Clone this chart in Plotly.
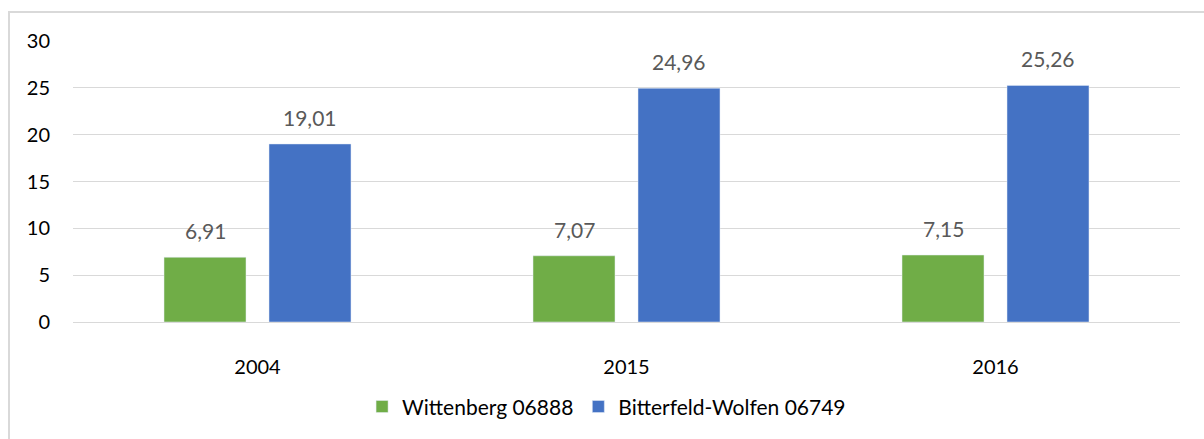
import plotly.graph_objects as go

years = ["2004", "2015", "2016"]
wittenberg = [6.91, 7.07, 7.15]
bitterfeld = [19.01, 24.96, 25.26]
series_names = ["Wittenberg 06888", "Bitterfeld-Wolfen 06749"]
y_ticks = [0, 5, 10, 15, 20, 25, 30]

GREEN = "#70AD47"
BLUE = "#4472C4"
FONT = "Lato, Open Sans, sans-serif"

fig = go.Figure()
fig.add_trace(go.Bar(x=years, y=wittenberg, name=series_names[0], marker_color=GREEN))
fig.add_trace(go.Bar(x=years, y=bitterfeld, name=series_names[1], marker_color=BLUE))


def fmt(v):
    return f"{v:.2f}".replace(".", ",")


# value labels above each bar
offset = 0.142
annotations = []
for i in range(len(years)):
    for vals, dx in ((wittenberg, -offset), (bitterfeld, offset)):
        annotations.append(dict(
            x=i + dx, y=vals[i], xref="x", yref="y", text=fmt(vals[i]),
            showarrow=False, yanchor="bottom", yshift=12,
            font=dict(family=FONT, size=21, color="#595959"),
        ))

fig.update_layout(
    width=1204, height=439,
    margin=dict(l=73, r=24, t=41, b=117),
    paper_bgcolor="white", plot_bgcolor="white",
    barmode="group", bargap=0.431, bargroupgap=0.219,
    font=dict(family=FONT, size=20, color="#000000"),
    annotations=annotations,
    showlegend=True,
    legend=dict(orientation="h", x=0.482, xanchor="center", y=-0.302, yanchor="middle",
                font=dict(size=21), traceorder="normal"),
    shapes=[dict(type="rect", xref="paper", yref="paper",
                 x0=-0.0578, x1=1.03, y0=-0.45, y1=1.103,
                 line=dict(color="#D9D9D9", width=2), layer="below")],
)
fig.update_yaxes(range=[0, 30], tickvals=y_ticks, showgrid=True, gridcolor="#D9D9D9",
                 gridwidth=1, zeroline=True, zerolinecolor="#D9D9D9", zerolinewidth=1,
                 ticks="", ticklabelstandoff=22, tickfont=dict(size=20))
fig.update_xaxes(showgrid=False, ticks="", ticklabelstandoff=31, tickfont=dict(size=20),
                 showline=False)

fig.write_html("out.html")
